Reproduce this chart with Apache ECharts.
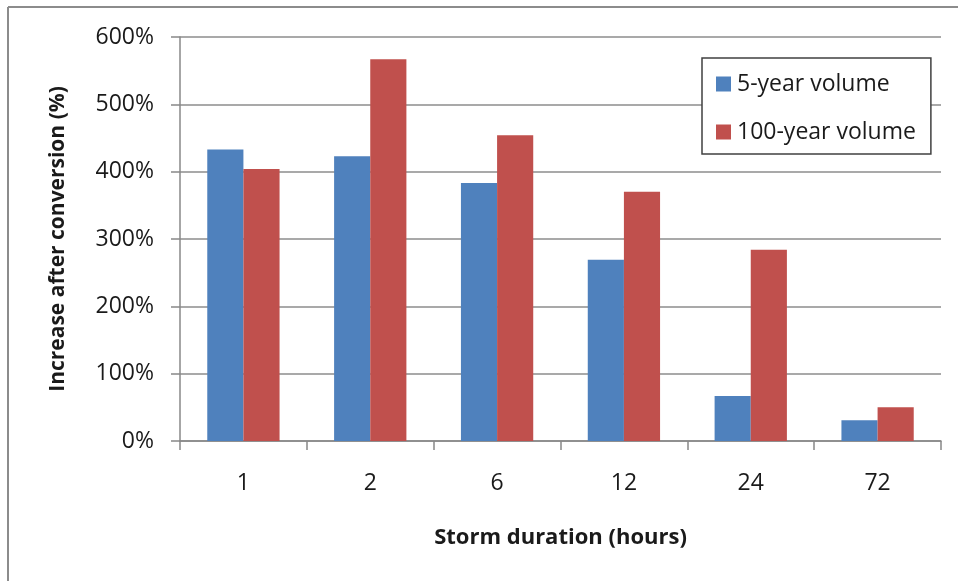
<!DOCTYPE html>
<html>
<head>
<meta charset="utf-8">
<script src="https://cdn.jsdelivr.net/npm/echarts@6/dist/echarts.min.js"></script>
<style>
html,body{margin:0;padding:0;background:#fff;}
#chart{width:958px;height:581px;}
</style>
</head>
<body>
<div id="chart"></div>
<script>
const categories = ['1', '2', '6', '12', '24', '72'];
const fiveYear = [433, 423, 383, 269, 67, 31];
const hundredYear = [404, 567, 454, 370, 284, 50];
const seriesNames = ['5-year volume', '100-year volume'];
const yTicks = { min: 0, max: 600, interval: 100 };

const FONT = 'Open Sans';
const chart = echarts.init(document.getElementById('chart'));
chart.setOption({
  animation: false,
  backgroundColor: '#fff',
  textStyle: { fontFamily: FONT },
  grid: { left: 180, right: 17, top: 37, bottom: 140, containLabel: false },
  legend: {
    orient: 'vertical',
    left: 702, top: 58,
    padding: [14, 15, 10, 14],
    itemWidth: 15, itemHeight: 15, itemGap: 24,
    borderColor: '#404040', borderWidth: 1.5,
    backgroundColor: '#fff',
    icon: 'rect',
    textStyle: { fontFamily: FONT, fontSize: 23, color: '#1a1a1a', padding: [0, 0, 0, 1], lineHeight: 24 },
    data: seriesNames
  },
  xAxis: {
    type: 'category',
    data: categories,
    name: 'Storm duration (hours)',
    nameLocation: 'middle',
    nameGap: 86,
    nameTextStyle: { fontFamily: FONT, fontSize: 22, fontWeight: 'bold', color: '#1a1a1a' },
    axisLine: { lineStyle: { color: '#888', width: 1.5 } },
    axisTick: { show: true, length: 9, alignWithLabel: false, lineStyle: { color: '#888', width: 1.5 } },
    axisLabel: { fontFamily: FONT, fontSize: 23, color: '#1a1a1a', margin: 31 },
    splitLine: { show: false }
  },
  yAxis: {
    type: 'value',
    min: yTicks.min, max: yTicks.max, interval: yTicks.interval,
    name: 'Increase after conversion (%)',
    nameLocation: 'middle',
    nameGap: 111,
    nameRotate: 90,
    nameTextStyle: { fontFamily: FONT, fontSize: 21, fontWeight: 'bold', color: '#1a1a1a' },
    axisLine: { show: true, lineStyle: { color: '#888', width: 1.5 } },
    axisTick: { show: true, length: 9, lineStyle: { color: '#888', width: 1.5 } },
    axisLabel: { fontFamily: FONT, fontSize: 23, color: '#1a1a1a', margin: 26, formatter: '{value}%' },
    splitLine: { show: true, lineStyle: { color: '#8c8c8c', width: 1.5 } }
  },
  series: [
    {
      name: seriesNames[0], type: 'bar', data: fiveYear,
      itemStyle: { color: '#4F81BD' },
      barGap: '0%', barCategoryGap: '43%'
    },
    {
      name: seriesNames[1], type: 'bar', data: hundredYear,
      itemStyle: { color: '#C0504D' },
      barGap: '0%', barCategoryGap: '43%'
    }
  ],
  graphic: [
    { type: 'line', shape: { x1: 8, y1: 7, x2: 958, y2: 7 }, style: { stroke: '#8c8c8c', lineWidth: 2 } },
    { type: 'line', shape: { x1: 8, y1: 7, x2: 8, y2: 581 }, style: { stroke: '#8c8c8c', lineWidth: 2 } }
  ]
});
</script>
</body>
</html>
